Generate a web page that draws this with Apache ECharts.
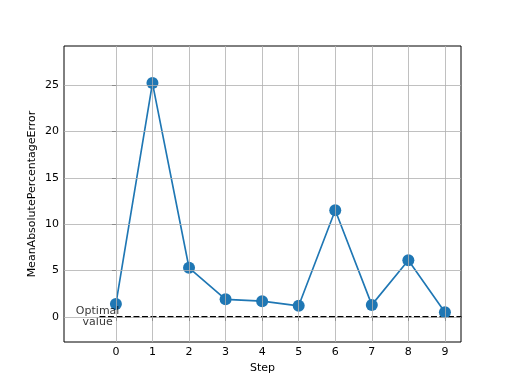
<!DOCTYPE html>
<html>
<head>
<meta charset="utf-8">
<script src="https://cdn.jsdelivr.net/npm/echarts@6/dist/echarts.min.js"></script>
<style>html,body{margin:0;padding:0;background:#fff}#c{width:512px;height:384px}</style>
</head>
<body>
<div id="c"></div>
<script>
var steps = [0, 1, 2, 3, 4, 5, 6, 7, 8, 9];
var mape = [1.4, 25.2, 5.3, 1.9, 1.7, 1.2, 11.5, 1.3, 6.1, 0.5];
var xTicks = [0, 1, 2, 3, 4, 5, 6, 7, 8, 9];
var yTicks = [0, 5, 10, 15, 20, 25];
var optimalX = [-0.45, 9.45];
var optimalY = [0, 0];
var optimalLabel = 'Optimal\nvalue';
var optimalLabelPos = [-0.5, 0];

var chart = echarts.init(document.getElementById('c'), null, {renderer: 'canvas'});
var font = 'DejaVu Sans';
var gridLines = [];
xTicks.forEach(function (v) { gridLines.push({xAxis: v}); });
yTicks.forEach(function (v) { gridLines.push({yAxis: v}); });

chart.setOption({
  animation: false,
  backgroundColor: '#fff',
  grid: {left: 64, right: 51, top: 46, bottom: 42, show: true, borderColor: '#000', borderWidth: 1, backgroundColor: 'transparent'},
  xAxis: {
    type: 'value', min: -1.42, max: 9.44,
    name: 'Step', nameLocation: 'middle', nameGap: 21, nameMoveOverlap: false,
    nameTextStyle: {color: '#000', fontFamily: font, fontSize: 11},
    axisLine: {show: false},
    axisTick: {show: true, customValues: xTicks, length: 4, lineStyle: {color: '#000'}},
    axisLabel: {customValues: xTicks, color: '#000', fontFamily: font, fontSize: 11, margin: 5},
    splitLine: {show: false}
  },
  yAxis: {
    type: 'value', min: -2.7, max: 29.2,
    name: 'MeanAbsolutePercentageError', nameLocation: 'middle', nameGap: 26, nameMoveOverlap: false,
    nameTextStyle: {color: '#000', fontFamily: font, fontSize: 11},
    axisLine: {show: false},
    axisTick: {show: true, customValues: yTicks, length: 4, lineStyle: {color: '#000'}},
    axisLabel: {customValues: yTicks, color: '#000', fontFamily: font, fontSize: 11, margin: 5},
    splitLine: {show: false}
  },
  series: [
    {
      type: 'line', data: [], z: 1, silent: true,
      markLine: {silent: true, symbol: 'none', label: {show: false}, animation: false,
        lineStyle: {color: '#b0b0b0', width: 0.8, type: 'solid'}, data: gridLines}
    },
    {
      type: 'line', z: 2, silent: true, symbol: 'none',
      data: optimalX.map(function (x, i) { return [x, optimalY[i]]; }),
      lineStyle: {color: '#000', width: 1.67, type: [6, 2.5]}
    },
    {
      type: 'line', z: 3,
      data: steps.map(function (s, i) { return [s, mape[i]]; }),
      symbol: 'circle', symbolSize: 12,
      lineStyle: {color: '#1f77b4', width: 1.67},
      itemStyle: {color: '#1f77b4', borderWidth: 0}
    },
    {
      type: 'scatter', z: 4, symbolSize: 0, silent: true,
      data: [optimalLabelPos],
      label: {show: true, formatter: optimalLabel, position: 'inside', align: 'center', verticalAlign: 'middle',
        color: '#000', fontFamily: font, fontSize: 11, lineHeight: 11}
    }
  ]
});
</script>
</body>
</html>
